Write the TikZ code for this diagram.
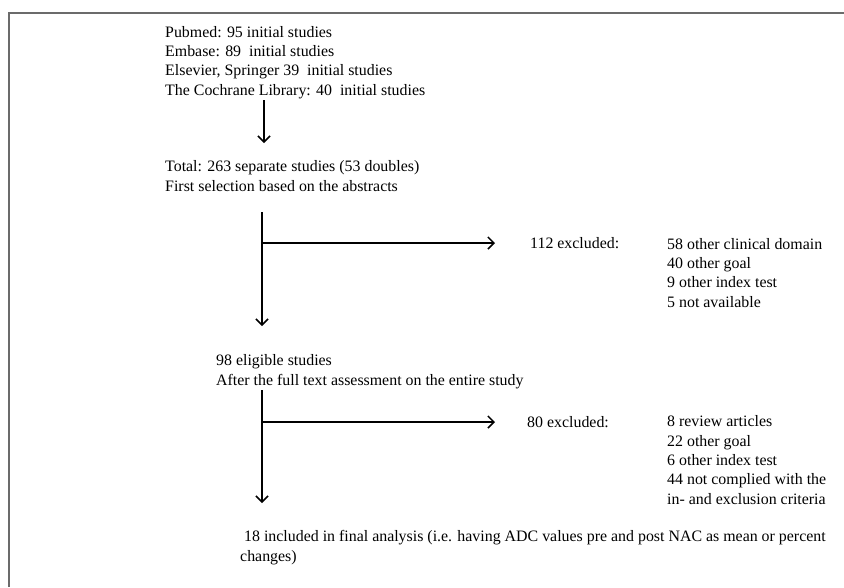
\documentclass[tikz,border=0pt]{standalone}
\usepackage{fontspec}
\setmainfont{Liberation Serif}
\usetikzlibrary{arrows.meta}
\begin{document}
\begin{tikzpicture}[x=1pt,y=-1pt,
  txt/.style={anchor=base west,inner sep=0pt,align=left,font=\fontsize{15.9}{19.3}\selectfont},
  flow/.style={line width=1.5pt,-{Straight Barb[length=6pt,width=12pt,line width=1.5pt]}},
  frame/.style={draw=black!58,line width=2pt}]
\useasboundingbox (0,0) rectangle (844,587);
\draw[frame] (9,587) -- (9,13) -- (844,13);
\node[txt] (src) at (165,95) {Pubmed: 95 initial studies\\Embase: 89\ \ initial studies\\Elsevier, Springer 39\ \ initial studies\\The Cochrane Library: 40\ \ initial studies};
\node[txt] (tot) at (165,191) {Total: 263 separate studies (53 doubles)\\First selection based on the abstracts};
\node[txt] (ex1) at (530,248) {112 excluded:};
\node[txt] (r1) at (667,307) {58 other clinical domain\\40 other goal\\9 other index test\\5 not available};
\node[txt] (elig) at (216,385) {98 eligible studies\\After the full text assessment on the entire study};
\node[txt] (ex2) at (527,427) {80 excluded:};
\node[txt] (r2) at (667,504) {8 review articles\\22 other goal\\6 other index test\\44 not complied with the\\in- and exclusion criteria};
\node[txt] (fin) at (240,561) {\ 18 included in final analysis (i.e. having ADC values pre and post NAC as mean or percent\\changes)};
\coordinate (a1s) at (264,100);
\coordinate (a1e) at (264,143);
\coordinate (a2s) at (262,212);
\coordinate (a2e) at (262,326);
\coordinate (b2) at (262,243);
\coordinate (b2e) at (495,243);
\coordinate (a3s) at (262,390);
\coordinate (a3e) at (262,503);
\coordinate (b3) at (262,422);
\coordinate (b3e) at (495,422);
\draw[flow] (a1s) -- (a1e);
\draw[flow] (a2s) -- (a2e);
\draw[flow] (b2) -- (b2e);
\draw[flow] (a3s) -- (a3e);
\draw[flow] (b3) -- (b3e);
\end{tikzpicture}
\end{document}
